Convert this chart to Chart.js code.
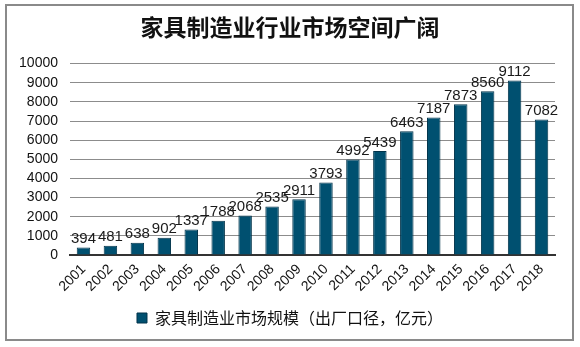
<!DOCTYPE html>
<html lang="zh">
<head>
    <meta charset="UTF-8">
    <title>家具制造业行业市场空间广阔</title>
    <script src="https://cdn.jsdelivr.net/npm/chart.js"></script>
    <style>
        body { margin: 0; background: #fff; }
        #wrap { width: 580px; height: 347px; }
    </style>
</head>
<body>
    <div id="wrap"><canvas id="barChart" width="580" height="347"></canvas></div>

    <script>
        const years = ['2001', '2002', '2003', '2004', '2005', '2006', '2007', '2008', '2009',
                       '2010', '2011', '2012', '2013', '2014', '2015', '2016', '2017', '2018'];
        const marketSize = [394, 481, 638, 902, 1337, 1788, 2068, 2535, 2911,
                            3793, 4992, 5439, 6463, 7187, 7873, 8560, 9112, 7082];
        const seriesName = '家具制造业市场规模（出厂口径，亿元）';
        const chartTitle = '家具制造业行业市场空间广阔';

        const fontFamily = '"Liberation Sans", Arial, "Noto Sans CJK SC", sans-serif';

        // frame round the whole picture
        const framePlugin = {
            id: 'frame',
            beforeDraw(chart) {
                const ctx = chart.ctx;
                ctx.save();
                ctx.strokeStyle = '#8a8a8a';
                ctx.lineWidth = 2;
                ctx.strokeRect(6, 5, 567, 335);
                ctx.restore();
            }
        };

        // value labels on top of bars
        const valueLabels = {
            id: 'valueLabels',
            afterDatasetsDraw(chart) {
                const ctx = chart.ctx;
                const meta = chart.getDatasetMeta(0);
                ctx.save();
                ctx.font = '15px ' + fontFamily;
                ctx.fillStyle = '#1a1a1a';
                ctx.textAlign = 'center';
                ctx.textBaseline = 'bottom';
                meta.data.forEach((bar, i) => {
                    ctx.fillText(marketSize[i], bar.x, bar.y - 1);
                });
                ctx.restore();
            }
        };

        new Chart(document.getElementById('barChart').getContext('2d'), {
            type: 'bar',
            data: {
                labels: years,
                datasets: [{
                    label: seriesName,
                    data: marketSize,
                    backgroundColor: '#005070',
                    borderColor: '#00334a',
                    borderWidth: 1,
                    barPercentage: 0.5,
                    categoryPercentage: 1.0
                }]
            },
            options: {
                responsive: false,
                animation: false,
                layout: { padding: { left: 0, right: 0, top: 0, bottom: 11 } },
                plugins: {
                    title: {
                        display: true,
                        text: chartTitle,
                        color: '#111',
                        font: { family: '"Noto Sans CJK SC", sans-serif', size: 23, weight: 'bold' },
                        padding: { top: 13, bottom: 23 }
                    },
                    legend: {
                        position: 'bottom',
                        labels: {
                            color: '#111',
                            font: { family: '"Noto Sans CJK SC", sans-serif', size: 16 },
                            boxWidth: 10,
                            boxHeight: 10,
                            padding: 10
                        }
                    },
                    tooltip: { enabled: false }
                },
                scales: {
                    x: {
                        grid: { display: false, drawTicks: false },
                        border: { color: '#333', width: 2 },
                        ticks: {
                            color: '#111',
                            font: { family: fontFamily, size: 14 },
                            minRotation: 45,
                            maxRotation: 45,
                            autoSkip: false,
                            padding: 6
                        },
                        afterFit(scale) { scale.height = 45; }
                    },
                    y: {
                        min: 0,
                        max: 10000,
                        grid: { color: '#8c8c8c', lineWidth: 1, drawTicks: false },
                        border: { display: false },
                        ticks: {
                            stepSize: 1000,
                            autoSkip: false,
                            color: '#111',
                            font: { family: fontFamily, size: 14 },
                            padding: 12,
                            callback: (v) => String(v)
                        },
                        afterFit(scale) { scale.width = 70; }
                    },
                    // empty right-hand space so title and legend stay centred on the frame
                    spacer: {
                        type: 'linear',
                        position: 'right',
                        grid: { display: false, drawTicks: false },
                        border: { display: false },
                        ticks: { display: false },
                        afterFit(scale) { scale.width = 25; }
                    }
                }
            },
            plugins: [framePlugin, valueLabels]
        });
    </script>
</body>
</html>
